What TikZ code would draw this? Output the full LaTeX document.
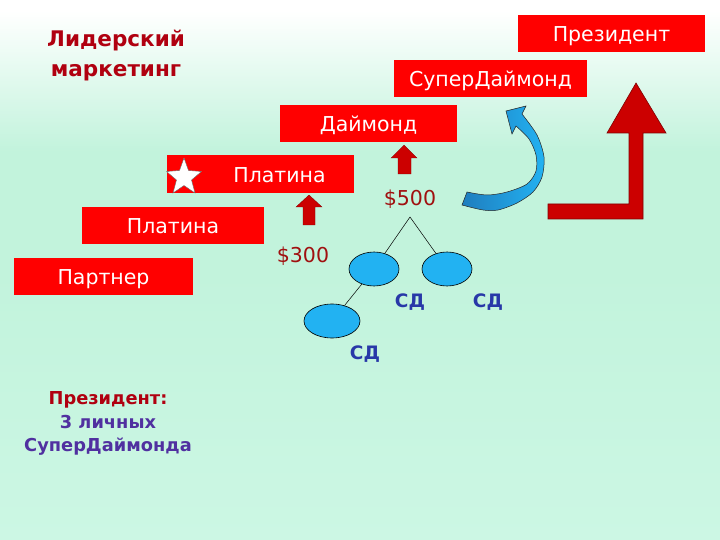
\documentclass[tikz,border=0pt]{standalone}
\usepackage{fontspec}
\setmainfont{DejaVu Sans}
\usetikzlibrary{shapes.geometric}
\definecolor{boxred}{HTML}{FF0000}
\definecolor{arrred}{HTML}{CC0000}
\definecolor{arrdark}{HTML}{800000}
\definecolor{titlered}{HTML}{B00010}
\definecolor{moneyred}{HTML}{A01010}
\definecolor{sdblue}{HTML}{2838A8}
\definecolor{purp}{HTML}{5030A0}
\definecolor{mint}{HTML}{C2F3DC}
\definecolor{mintb}{HTML}{CCF7E4}
\definecolor{bluel}{HTML}{22B2F2}
\definecolor{blued}{HTML}{1F7DBE}
\pgfdeclareverticalshading{bgshade}{100bp}{color(0bp)=(mintb); color(25bp)=(mintb); color(50bp)=(mint); color(61bp)=(mint); color(74bp)=(white); color(100bp)=(white)}
\tikzset{
  rbox/.style={fill=boxred, text=white, font=\fontsize{20.5bp}{24bp}\selectfont, inner sep=0pt, minimum height=37bp, text height=17bp, text depth=0bp},
  smallarr/.style={fill=arrred, draw=arrdark, line width=0.3bp},
  money/.style={text=moneyred, font=\fontsize{20.5bp}{24bp}\selectfont, inner sep=0pt},
  sdlabel/.style={text=sdblue, font=\bfseries\fontsize{18.5bp}{22bp}\selectfont, inner sep=0pt},
  oval/.style={ellipse, fill=bluel, draw=black, line width=0.6bp, inner sep=0pt},
  treeline/.style={draw=black, line width=0.5bp}
}
\begin{document}
\begin{tikzpicture}[x=1bp,y=-1bp]
\useasboundingbox (0,0) rectangle (720,540);
\shade[shading=bgshade] (0,0) rectangle (720,540);

% title
\node[text=titlered, font=\bfseries\fontsize{21.5bp}{30bp}\selectfont, align=center, inner sep=0pt] (title) at (116,56) {Лидерский\\маркетинг};

% boxes
\node[rbox, minimum width=187bp] (pres) at (611.5,33.5) {Президент};
\node[rbox, minimum width=193bp] (sdm) at (490.5,78.5) {СуперДаймонд};
\node[rbox, minimum width=177bp] (dia) at (368.5,123.5) {Даймонд};
\node[rbox, minimum width=187bp, minimum height=38bp] (plat2) at (260.5,174) {\hspace*{38bp}Платина};
\node[rbox, minimum width=182bp] (plat1) at (173,225.5) {Платина};
\node[rbox, minimum width=179bp] (partner) at (103.5,276.5) {Партнер};

% star
\filldraw[fill=white, draw=black!60, line width=0.4bp]
  (184,158) -- (188.5,170.5) -- (201.5,171.5) -- (191.5,180) -- (195,193) -- (184,185.5)
  -- (173,193) -- (176.5,180) -- (166.5,171.5) -- (179.5,170.5) -- cycle;

% small arrows
\filldraw[smallarr] (404,145) -- (417,158) -- (411,158) -- (411,174) -- (398,174) -- (398,158) -- (391,158) -- cycle;
\filldraw[smallarr] (309,195) -- (322,207) -- (315,207) -- (315,225) -- (303,225) -- (303,207) -- (296,207) -- cycle;

% money
\node[money] (m500) at (410,199) {\$500};
\node[money] (m300) at (303,256) {\$300};

% tree
\coordinate (apex) at (410,217);
\node[oval, minimum width=50bp, minimum height=34bp] (e1) at (374,269) {};
\node[oval, minimum width=50bp, minimum height=34bp] (e2) at (447,269) {};
\node[oval, minimum width=56bp, minimum height=34bp] (e3) at (332,321) {};
\draw[treeline] (apex) -- (e1);
\draw[treeline] (apex) -- (e2);
\draw[treeline] (e1) -- (e3);
\node[sdlabel] (sd1) at (410,302) {СД};
\node[sdlabel] (sd2) at (488,302) {СД};
\node[sdlabel] (sd3) at (365,354) {СД};

% blue curved arrow
\shadedraw[left color=blued, right color=bluel, draw=black!85, line width=0.5bp]
  (522,114) -- (526,106) -- (506,111) -- (512,134) -- (516,126)
  -- plot[smooth] coordinates {(516,126) (529,139) (536,155) (536,171) (527,184) (507,192) (487,195) (467,192)}
  -- (462,205)
  -- plot[smooth] coordinates {(462,205) (483,210) (498,210) (517,203) (533,192) (542,177) (544,157) (537,135) (522,114)}
  -- cycle;

% big red arrow
\filldraw[fill=arrred, draw=arrdark, line width=0.6bp]
  (548,204) -- (629,204) -- (629,133) -- (607,133) -- (636,83) -- (666,133) -- (643,133) -- (643,219) -- (548,219) -- cycle;

% bottom text
\node[font=\bfseries\fontsize{17.8bp}{23.5bp}\selectfont, align=center, inner sep=0pt] (note) at (108,423.5)
  {\textcolor{titlered}{Президент:}\\\textcolor{purp}{3 личных}\\\textcolor{purp}{СуперДаймонда}};
\end{tikzpicture}
\end{document}
